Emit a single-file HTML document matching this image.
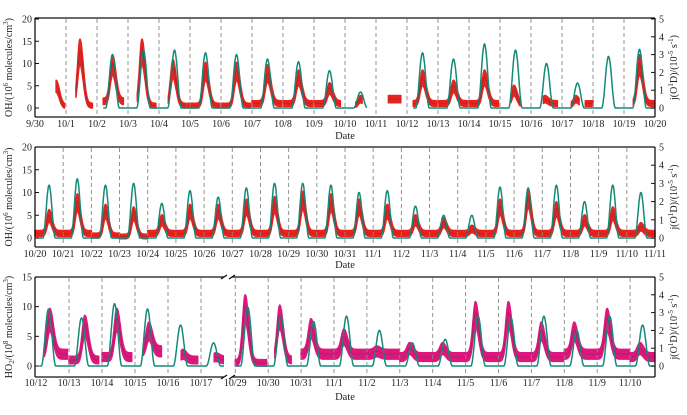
<!DOCTYPE html>
<html><head><meta charset="utf-8"><style>
html,body{margin:0;padding:0;background:#fff;}
svg{display:block;font-family:"Liberation Serif","Noto Serif CJK SC",serif;}
</style></head><body>
<svg id="chart" width="687" height="415" viewBox="0 0 687 415" xmlns="http://www.w3.org/2000/svg"></svg>
<script>
// ---------- Panel 1 data (day index 0 = 9/30) ----------
const p1Dates = ["9/30","10/1","10/2","10/3","10/4","10/5","10/6","10/7","10/8","10/9","10/10","10/11","10/12","10/13","10/14","10/15","10/16","10/17","10/18","10/19","10/20"];
const p1OhDay   = [0,1,2,3,4,5,6,7,8,9,10,11,12,13,14,15,16,17,17,19];
const p1OhStart = [.68,.32,.2,.3,.3,-.1,0,0,0,0,.35,.4,.2,0,0,.35,.4,.3,.75,.3];
const p1OhEnd   = [.95,.85,.85,.9,.85,.95,.95,.95,.95,.85,.55,.8,.95,.95,.95,.65,.85,.55,1,.99];
const p1OhCtr   = [.68,.45,.5,.45,.45,.5,.5,.5,.5,.5,.5,.5,.5,.5,.5,.45,.45,.45,.5,.5];
const p1OhPeak  = [5,13,10,13,9,8.5,8.5,8,7,4.5,2,2,7,5,7,4,2,2,1,10];
const p1OhBase  = [0.3,0.5,1.5,0.5,0.5,0.5,0.5,1,1,1,0.5,2,1,1,1,0.5,1,0.5,1,1];
const p1JDay  = [2,3,4,5,6,7,8,9,10,12,13,14,15,16,17,18,19];
const p1JPeak = [3.0,3.25,3.25,3.1,3.0,2.75,2.6,2.1,0.9,3.1,2.75,3.6,3.25,2.5,1.4,2.9,3.3];
const p1JSegStart = [2.2,12.2];
const p1JSegEnd   = [10.7,20];

// ---------- Panel 2 data (day index 0 = 10/20) ----------
const p2Dates = ["10/20","10/21","10/22","10/23","10/24","10/25","10/26","10/27","10/28","10/29","10/30","10/31","11/1","11/2","11/3","11/4","11/5","11/6","11/7","11/8","11/9","11/10","11/11"];
const p2OhDay  = [0,1,2,3,4,5,6,7,8,9,10,11,12,13,14,15,16,17,18,19,20,21];
const p2OhPeak = [5,8,6,5.5,4,6,6,7,7.5,8.5,8,7,6,4,3.5,2,7,9,6.5,4,5.5,2.5];
const p2OhBase = [1,1,0.5,0.3,1,1,1,1,1,1,1,1,1,1,1,1,1,1,1,1,1,1];
const p2JDay  = [0,1,2,3,4,5,6,7,8,9,10,11,12,13,14,15,16,17,18,19,20,21];
const p2JPeak = [2.9,3.25,2.9,3,1.9,2.6,2.25,2.75,3,3,2.9,2.5,2.6,1.75,1.25,1.25,2.8,2.75,2.9,2,2.9,2.5];
const p2JSegStart = [0.05];
const p2JSegEnd   = [22];

// ---------- Panel 3 data (day number in October, 32 = 11/1) ----------
const p3DatesLeft  = ["10/12","10/13","10/14","10/15","10/16","10/17"];
const p3DatesRight = ["10/29","10/30","10/31","11/1","11/2","11/3","11/4","11/5","11/6","11/7","11/8","11/9","11/10"];
const p3HoDay   = [12,13,14,15,16,17,29,30,31,32,33,34,35,36,37,38,39,40,41];
const p3HoStart = [.25,0,0,.25,.4,.4,0,.2,0,0,0,0,0,0,0,0,0,0,0];
const p3HoEnd   = [.95,.9,.9,.8,.9,.75,.95,.7,.98,.98,.98,.98,.98,.98,.98,.98,.98,.98,.73];
const p3HoCtr   = [.42,.48,.45,.42,.45,.45,.3,.35,.3,.3,.3,.3,.3,.3,.3,.3,.3,.3,.3];
const p3HoPeak  = [8,7,8,6,2,1.5,10,8.5,6.5,5,2.5,3,3,9,9,6,6,8,3];
const p3HoBase  = [2,1,1.5,2.5,1,1,0.5,1,2,2,2,1.5,1.5,1.5,1.5,1.5,2,2,1.5];
const p3JDay  = [12,13,14,15,16,17,29,30,31,32,33,34,35,36,37,38,39,40,41];
const p3JPeak = [3.2,2.7,3.5,3.2,2.3,1.3,3.3,2.8,2.5,2.8,2,1.3,1.5,2.8,2.7,2.8,2,2.8,2.3];
const p3JSegStart = [12.1,29.0];
const p3JSegEnd   = [17.8,41.73];

const NS = "http://www.w3.org/2000/svg";
const svg = document.getElementById("chart");
function el(tag, attrs, parent){ const e=document.createElementNS(NS,tag); for(const k in attrs) e.setAttribute(k,attrs[k]); (parent||svg).appendChild(e); return e; }
function txt(x,y,s,attrs,parent){ const t=el("text",Object.assign({x:x,y:y,"font-size":10,fill:"#222"},attrs||{}),parent); t.textContent=s; return t; }

function jAt(t, days, peaks, ctr){
  let v=0;
  for(let i=0;i<days.length;i++){
    const f=t-days[i];
    if(Math.abs(f-ctr)<0.22){ const c=Math.cos(Math.PI*(f-ctr)/0.44); v+=peaks[i]*c*c; }
  }
  return v;
}

function drawPanel(cfg, name){
  const g=el("g",{});
  
  
  // measured band (behind)
  const bands=[];
  for(let i=0;i<cfg.mDay.length;i++){
    const st=cfg.mStart?cfg.mStart[i]:0, en=cfg.mEnd?cfg.mEnd[i]:1, c=cfg.mCtr?cfg.mCtr[i]:0.5;
    let lo=[], hi=[], mid=[];
    for(let f=st; f<=en+1e-9; f+=0.01){
      const sg = f<c ? 0.11 : 0.15;
      const v=cfg.mBase[i]+(cfg.mPeak[i]-cfg.mBase[i])*Math.exp(-Math.pow((f-c)/sg,2));
      const x=cfg.x(cfg.mDay[i]+f).toFixed(1);
      lo.push(x+","+cfg.yL(Math.max(v*0.78-0.4,-0.6)).toFixed(1));
      hi.push(x+","+cfg.yL(v*1.15+0.5).toFixed(1));
      mid.push(x+","+cfg.yL(v).toFixed(1));
    }
    bands.push({lo:lo,hi:hi,mid:mid});
  }
  bands.forEach(b=>{
    const p=el("polygon",{points:b.hi.concat(b.lo.slice().reverse()).join(" "),fill:cfg.color,stroke:cfg.color,"stroke-width":1.5,"stroke-linejoin":"round"},g);
    
    
  });
  // green j(O1D) line
  for(let s=0;s<cfg.jSegStart.length;s++){
    let pts=[];
    for(let t=cfg.jSegStart[s]; t<=cfg.jSegEnd[s]+1e-9; t+=0.01){
      pts.push(cfg.x(t).toFixed(1)+","+cfg.yR(jAt(t,cfg.jDay,cfg.jPeak,cfg.jCtr)).toFixed(1));
    }
    const l=el("polyline",{points:pts.join(" "),fill:"none",stroke:"#148a78","stroke-width":1.5,"stroke-linejoin":"round"},g);
    
    
  }
  bands.forEach(b=>{
    const d=el("polyline",{points:b.mid.join(" "),fill:"none",stroke:"#6a3545","stroke-width":0.8,"opacity":0.6},g);
    
    
  });
}

function frame(x0,x1,yT,yB,breakGap){
  const fr=el("g",{stroke:"#111","stroke-width":1.3,fill:"none"});
  
  
  el("line",{x1:x0,y1:yT,x2:x0,y2:yB},fr);
  el("line",{x1:x1,y1:yT,x2:x1,y2:yB},fr);
  if(breakGap){
    el("line",{x1:x0,y1:yT,x2:breakGap[0],y2:yT},fr);
    el("line",{x1:breakGap[1],y1:yT,x2:x1,y2:yT},fr);
    el("line",{x1:x0,y1:yB,x2:breakGap[0],y2:yB},fr);
    el("line",{x1:breakGap[1],y1:yB,x2:x1,y2:yB},fr);
    [yT,yB].forEach(y=>{
      el("line",{x1:breakGap[0]-3,y1:y+2,x2:breakGap[0]+3,y2:y-2},fr);
      el("line",{x1:breakGap[1]-3,y1:y+2,x2:breakGap[1]+3,y2:y-2},fr);
    });
  } else {
    el("line",{x1:x0,y1:yT,x2:x1,y2:yT},fr);
    el("line",{x1:x0,y1:yB,x2:x1,y2:yB},fr);
  }
}

function yTicks(x0,x1,yL,yR,leftMax,leftStep){
  for(let v=0; v<=leftMax+1e-9; v+=leftStep){
    const y=yL(v);
    el("line",{x1:x0,y1:y,x2:x0+4,y2:y,stroke:"#111","stroke-width":1});
    const t=txt(x0-3,y+3.5,String(v),{"text-anchor":"end"});
    
    
  }
  for(let v=0; v<=5; v++){
    const y=yR(v);
    el("line",{x1:x1-4,y1:y,x2:x1,y2:y,stroke:"#111","stroke-width":1});
    const t=txt(x1+4,y+3.5,String(v),{});
    
    
  }
}

function dashes(xs,yT,yB){
  xs.forEach(x=>{
    const l=el("line",{x1:x,y1:yT+1,x2:x,y2:yB-1,stroke:"#888","stroke-width":0.9,"stroke-dasharray":"4,3"});
    
    
  });
}

function axisTitles(yT,yB,leftLabel,dateY){
  const cy=(yT+yB)/2;
  const lt=el("text",{x:0,y:0,"font-size":10,fill:"#222","text-anchor":"middle",transform:"translate(12,"+cy+") rotate(-90)"});
  lt.innerHTML=leftLabel;
  
  
  const rt=el("text",{x:0,y:0,"font-size":10,fill:"#222","text-anchor":"middle",transform:"translate(677,"+cy+") rotate(-90)"});
  rt.innerHTML='j(O<tspan dy="-4" font-size="7">1</tspan><tspan dy="4">D)/(10</tspan><tspan dy="-4" font-size="7">-5</tspan><tspan dy="4"> s</tspan><tspan dy="-4" font-size="7">-1</tspan><tspan dy="4">)</tspan>';
  
  
  const d=txt(345,dateY,"Date",{"text-anchor":"middle","font-size":10.5});
  
  
}

// ---------- Panel 1 ----------
(function(){
  const x0=35,x1=655,yT=18,yB=117;
  const x=d=>x0+d*31, yL=v=>108-v*(89/20), yR=v=>108-v*(89/5);
  drawPanel({x:x,yL:yL,yR:yR,jDay:p1JDay,jPeak:p1JPeak,jCtr:.5,jSegStart:p1JSegStart,jSegEnd:p1JSegEnd,
    mDay:p1OhDay,mStart:p1OhStart,mEnd:p1OhEnd,mCtr:p1OhCtr,mPeak:p1OhPeak,mBase:p1OhBase,color:"#e8231e"},"panel-oh-sep-oct");
  dashes(p1Dates.slice(1,-1).map((_,i)=>x(i+1)),yT,yB);
  frame(x0,x1,yT,yB);
  yTicks(x0,x1,yL,yR,20,5);
  p1Dates.forEach((s,i)=>{ const t=txt(x(i),127,s,{"text-anchor":"middle"});   });
  axisTitles(yT,yB,'OH/(10<tspan dy="-4" font-size="7">6</tspan><tspan dy="4"> molecules/cm</tspan><tspan dy="-4" font-size="7">3</tspan><tspan dy="4">)</tspan>',139);
})();

// ---------- Panel 2 ----------
(function(){
  const x0=35,x1=655,yT=147,yB=247;
  const x=d=>x0+d*(620/22), yL=v=>238-v*(91/20), yR=v=>238-v*(91/5);
  drawPanel({x:x,yL:yL,yR:yR,jDay:p2JDay,jPeak:p2JPeak,jCtr:.5,jSegStart:p2JSegStart,jSegEnd:p2JSegEnd,
    mDay:p2OhDay,mPeak:p2OhPeak,mBase:p2OhBase,color:"#e8231e"},"panel-oh-oct-nov");
  dashes(p2Dates.slice(1,-1).map((_,i)=>x(i+1)),yT,yB);
  frame(x0,x1,yT,yB);
  yTicks(x0,x1,yL,yR,20,5);
  p2Dates.forEach((s,i)=>{ const t=txt(x(i),257,s,{"text-anchor":"middle"});   });
  axisTitles(yT,yB,'OH/(10<tspan dy="-4" font-size="7">6</tspan><tspan dy="4"> molecules/cm</tspan><tspan dy="-4" font-size="7">3</tspan><tspan dy="4">)</tspan>',268);
})();

// ---------- Panel 3 ----------
(function(){
  const x0=35,x1=655,yT=277,yB=377;
  const x=d=> d<20 ? 36+(d-12)*33 : 334+(d-32)*32.9;
  const yL=v=>366-v*(89/15), yR=v=>366-v*(89/5);
  const cp=el("clipPath",{id:"cp3"});
  el("rect",{x:x0,y:yT,width:224-x0,height:yB-yT},cp);
  el("rect",{x:232,y:yT,width:x1-232,height:yB-yT},cp);
  drawPanel({x:x,yL:yL,yR:yR,jDay:p3JDay,jPeak:p3JPeak,jCtr:.38,jSegStart:p3JSegStart,jSegEnd:p3JSegEnd,
    mDay:p3HoDay,mStart:p3HoStart,mEnd:p3HoEnd,mCtr:p3HoCtr,mPeak:p3HoPeak,mBase:p3HoBase,color:"#e0167f"},"panel-ho2");
  svg.lastChild.setAttribute("clip-path","url(#cp3)");
  const dx=[13,14,15,16,17,29,30,31,32,33,34,35,36,37,38,39,40,41].map(x);
  dashes(dx,yT,yB);
  frame(x0,x1,yT,yB,[224,232]);
  yTicks(x0,x1,yL,yR,15,5);
  p3DatesLeft.forEach((s,i)=>{ const t=txt(x(12+i),386,s,{"text-anchor":"middle"});   });
  p3DatesRight.forEach((s,i)=>{ const t=txt(x(29+i),386,s,{"text-anchor":"middle"});   });
  axisTitles(yT,yB,'HO<tspan dy="2" font-size="7">2</tspan><tspan dy="-2">/(10</tspan><tspan dy="-4" font-size="7">8</tspan><tspan dy="4"> molecules/cm</tspan><tspan dy="-4" font-size="7">3</tspan><tspan dy="4">)</tspan>',400);
})();
</script>
</body></html>
